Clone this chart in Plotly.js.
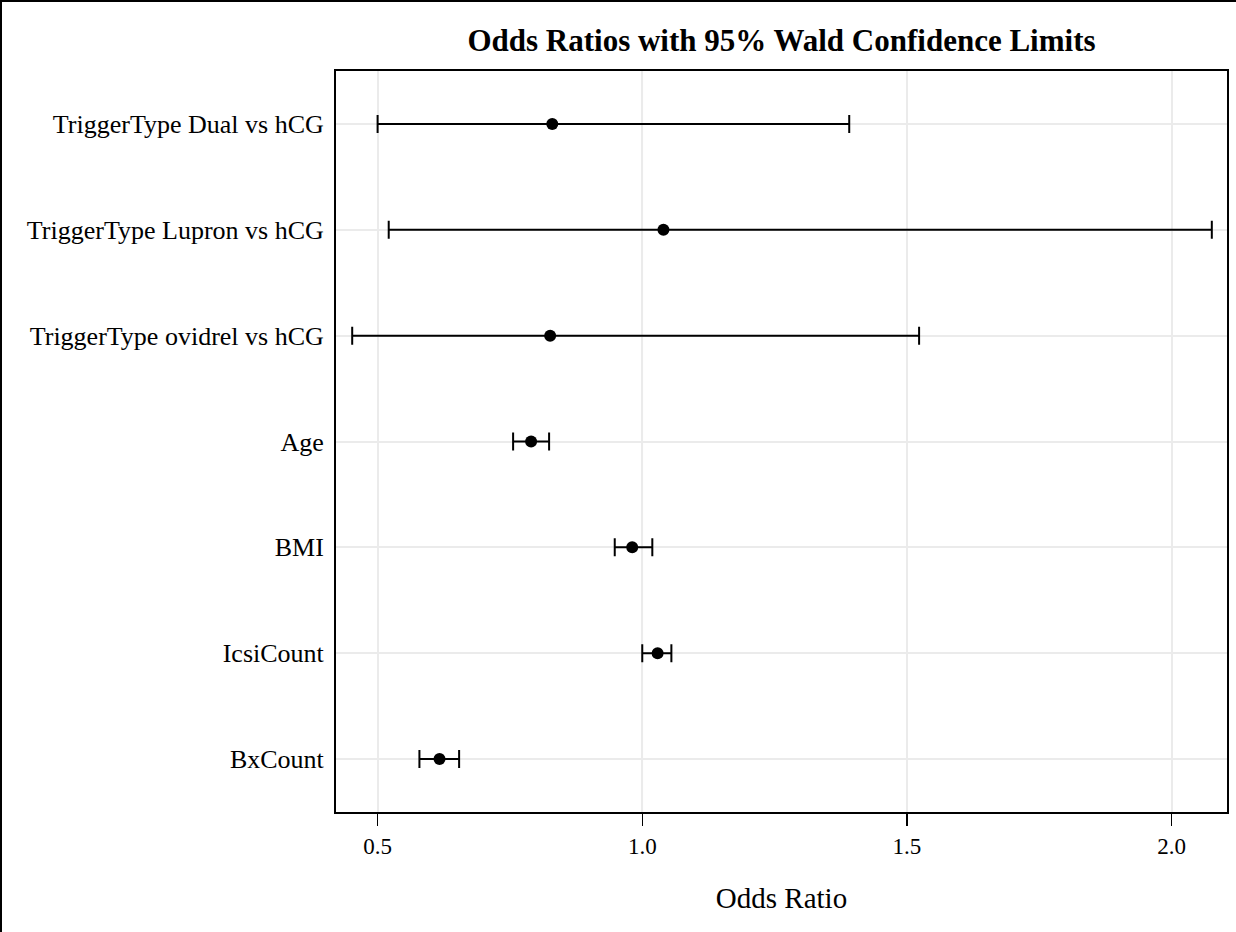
<!DOCTYPE html>
<html>
<head>
<meta charset="utf-8">
<script src="https://cdn.plot.ly/plotly-3.0.1.min.js"></script>
<style>html,body{margin:0;padding:0;background:#fff;}#chart{width:1236px;height:932px;}</style>
</head>
<body>
<div id="chart"></div>
<script>
// Effects, listed bottom to top
const effects = ["BxCount", "IcsiCount", "BMI", "Age",
  "TriggerType ovidrel vs hCG", "TriggerType Lupron vs hCG", "TriggerType Dual vs hCG"];
const oddsRatio = [0.617, 1.029, 0.981, 0.790, 0.826, 1.040, 0.830];
const lowerCL   = [0.579, 1.000, 0.948, 0.756, 0.452, 0.521, 0.500];
const upperCL   = [0.654, 1.055, 1.019, 0.824, 1.523, 2.076, 1.391];
const xTicks = [0.5, 1.0, 1.5, 2.0];
const xTickText = ["0.5", "1.0", "1.5", "2.0"];

const plusArr = oddsRatio.map((v, i) => upperCL[i] - v);
const minusArr = oddsRatio.map((v, i) => v - lowerCL[i]);

const serif = "Liberation Serif, Times New Roman, serif";

const trace = {
  type: "scatter",
  mode: "markers",
  x: oddsRatio,
  y: effects,
  marker: {color: "#000", size: 12, symbol: "circle"},
  error_x: {type: "data", symmetric: false, array: plusArr, arrayminus: minusArr,
            color: "#000", thickness: 2, width: 9},
  showlegend: false,
  hoverinfo: "x+y"
};

const W = 1236, H = 932, L = 336, R = 9, T = 71, B = 120;
const pw = W - L - R, ph = H - T - B;
const px = p => (p - L) / pw;
const py = p => (H - B - p) / ph;

const layout = {
  width: W, height: H,
  margin: {l: L, r: R, t: T, b: B},
  paper_bgcolor: "#fff", plot_bgcolor: "#fff",
  font: {family: serif, color: "#000"},
  title: {text: "<b>Odds Ratios with 95% Wald Confidence Limits</b>",
          font: {family: serif, size: 31, color: "#000"},
          x: 0.5, xref: "paper", xanchor: "center", y: 1 - 40 / H, yanchor: "middle"},
  xaxis: {
    range: [0.4214, 2.1047],
    tickvals: xTicks, ticktext: xTickText,
    ticks: "outside", ticklen: 12, tickwidth: 1.5, tickcolor: "#000",
    tickfont: {family: serif, size: 23, color: "#000"},
    showgrid: true, gridcolor: "#ebebeb", gridwidth: 2,
    zeroline: false,
    showline: true, linecolor: "#000", linewidth: 2, mirror: true,
    title: {text: "Odds Ratio", font: {family: serif, size: 29, color: "#000"}, standoff: 30}
  },
  yaxis: {
    type: "category", categoryorder: "array", categoryarray: effects,
    range: [-0.5, 6.5],
    ticks: "", ticklabelstandoff: 5,
    tickfont: {family: serif, size: 26, color: "#000"},
    showgrid: true, gridcolor: "#ebebeb", gridwidth: 2,
    zeroline: false,
    showline: true, linecolor: "#000", linewidth: 2, mirror: true
  },
  shapes: [
    {type: "line", xref: "x", yref: "paper", x0: 1, x1: 1, y0: 0, y1: 1,
     line: {color: "#808080", width: 1.5}, layer: "below"},
    {type: "line", xref: "paper", yref: "paper", x0: px(0), x1: px(W), y0: py(1), y1: py(1),
     line: {color: "#000", width: 2}},
    {type: "line", xref: "paper", yref: "paper", x0: px(1), x1: px(1), y0: py(0), y1: py(H),
     line: {color: "#000", width: 2}}
  ]
};

Plotly.newPlot("chart", [trace], layout, {displayModeBar: false, staticPlot: true});
</script>
</body>
</html>
